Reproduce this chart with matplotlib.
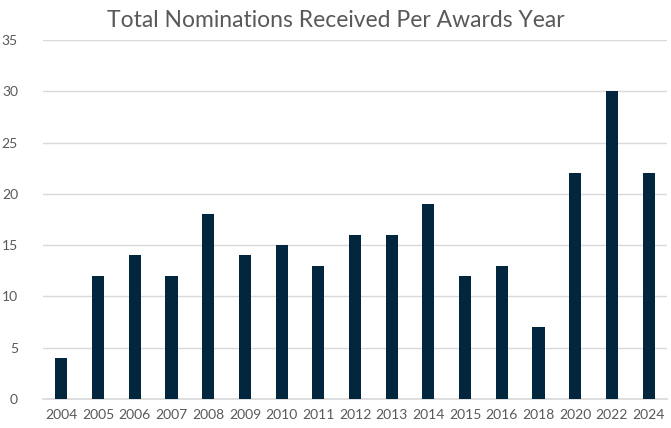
import matplotlib
matplotlib.use("Agg")
import matplotlib.pyplot as plt

years = ["2004", "2005", "2006", "2007", "2008", "2009", "2010", "2011", "2012",
         "2013", "2014", "2015", "2016", "2018", "2020", "2022", "2024"]
nominations = [4, 12, 14, 12, 18, 14, 15, 13, 16, 16, 19, 12, 13, 7, 22, 30, 22]
y_ticks = [0, 5, 10, 15, 20, 25, 30, 35]

plt.rcParams["font.family"] = ["Lato", "DejaVu Sans"]

fig = plt.figure(figsize=(6.71, 4.28), dpi=100)
ax = fig.add_axes([43 / 671, 29 / 428, 624 / 671, 359 / 428])

x = range(len(years))
ax.bar(x, nominations, width=0.33, color="#03263F", zorder=3)

ax.set_xlim(-0.5, len(years) - 0.5)
ax.set_ylim(0, 35)
ax.set_yticks(y_ticks)
ax.set_xticks(list(x))
ax.set_xticklabels(years)

ax.grid(axis="y", color="#D9D9D9", linewidth=1, zorder=0)
for side in ["top", "right", "left"]:
    ax.spines[side].set_visible(False)
ax.spines["bottom"].set_color("#D9D9D9")
ax.spines["bottom"].set_linewidth(1.2)
ax.tick_params(axis="both", length=0, colors="#595959", labelsize=10)
ax.tick_params(axis="x", pad=7)
ax.tick_params(axis="y", pad=18)

fig.text(0.5, 0.953, "Total Nominations Received Per Awards Year",
         ha="center", va="center", fontsize=16.5, color="#595959")

fig.savefig("out.png", dpi=100)
